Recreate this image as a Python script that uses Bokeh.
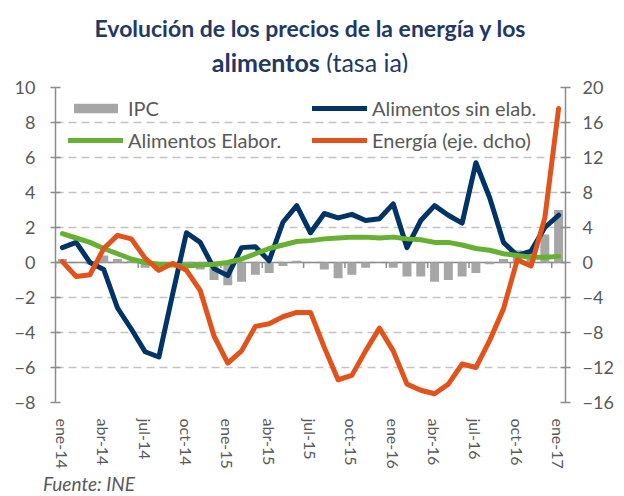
import math
from bokeh.plotting import figure
from bokeh.models import (Range1d, LinearAxis, FixedTicker, Span, Legend,
                          LegendItem, Div)
from bokeh.layouts import column
from bokeh.embed import file_html
from bokeh.resources import INLINE

# ---------------- data ----------------
meses = ["ene-14", "feb-14", "mar-14", "abr-14", "may-14", "jun-14", "jul-14",
         "ago-14", "sep-14", "oct-14", "nov-14", "dic-14",
         "ene-15", "feb-15", "mar-15", "abr-15", "may-15", "jun-15", "jul-15",
         "ago-15", "sep-15", "oct-15", "nov-15", "dic-15",
         "ene-16", "feb-16", "mar-16", "abr-16", "may-16", "jun-16", "jul-16",
         "ago-16", "sep-16", "oct-16", "nov-16", "dic-16",
         "ene-17"]

ipc = [0.2, 0.0, -0.1, 0.4, 0.2, 0.1, -0.3, -0.5, -0.2, -0.1, -0.4, -1.0,
       -1.3, -1.1, -0.7, -0.6, -0.2, 0.1, 0.0, -0.4, -0.9, -0.7, -0.3, 0.0,
       -0.3, -0.8, -0.8, -1.1, -1.0, -0.8, -0.6, -0.1, 0.2, 0.7, 0.7, 1.6,
       3.0]

alim_sin_elab = [0.85, 1.15, 0.0, -0.4, -2.6, -3.8, -5.1, -5.4, -1.8, 1.7,
                 1.15, -0.35, -0.75, 0.85, 0.9, 0.1, 2.3, 3.25, 1.7, 2.8,
                 2.55, 2.75, 2.4, 2.5, 3.35, 0.85, 2.4, 3.25, 2.7, 2.25,
                 5.7, 3.7, 1.15, 0.4, 0.65, 2.0, 2.7]

alim_elabor = [1.65, 1.4, 1.15, 0.8, 0.5, 0.2, 0.0, -0.1, -0.15, -0.2, -0.15,
               -0.1, 0.0, 0.2, 0.5, 0.8, 1.0, 1.2, 1.25, 1.35, 1.4, 1.45,
               1.45, 1.4, 1.45, 1.35, 1.3, 1.15, 1.15, 1.0, 0.8, 0.7, 0.5,
               0.4, 0.3, 0.3, 0.35]

energia = [0.1, -1.6, -1.4, 1.6, 3.1, 2.7, 0.5, -0.9, -0.1, -0.9, -3.2, -8.4,
           -11.5, -10.1, -7.3, -7.0, -6.2, -5.7, -5.7, -9.7, -13.4, -12.9,
           -10.1, -7.5, -10.1, -13.9, -14.6, -15.0, -13.9, -11.6, -12.0,
           -8.9, -5.3, 0.3, -0.4, 5.1, 17.6]

left_ticks = [-8, -6, -4, -2, 0, 2, 4, 6, 8, 10]
right_ticks = [-16, -12, -8, -4, 0, 4, 8, 12, 16, 20]
label_step = 3

titulo_1 = "Evolución de los precios de la energía y los"
titulo_2_bold = "alimentos"
titulo_2_normal = "(tasa ia)"
fuente = "Fuente: INE"

# ---------------- styling ----------------
FONT = "Lato"
TXT = "#595959"
AXIS = "#8c8c8c"
NAVY = "#003366"
GREEN = "#66b032"
ORANGE = "#e2531b"
GREY = "#a6a6a6"
TITLE = "#1f3864"
W = 616

x = list(range(len(meses)))

p = figure(width=W, height=402,
           x_range=Range1d(-0.5, len(meses) - 0.5),
           y_range=Range1d(left_ticks[0], left_ticks[-1]),
           output_backend="svg", toolbar_location=None,
           min_border_left=55, min_border_right=44,
           min_border_top=15, min_border_bottom=72, margin=0)
p.outline_line_color = None
p.background_fill_color = "white"
p.border_fill_color = "white"

p.extra_y_ranges = {"right": Range1d(right_ticks[0], right_ticks[-1])}

# grid
p.xgrid.visible = False
p.ygrid.ticker = FixedTicker(ticks=left_ticks)
p.ygrid.grid_line_color = "#c3c3c3"
p.ygrid.grid_line_dash = "8 5"
p.ygrid.grid_line_width = 1.5

# left axis (cross ticks)
ya = p.yaxis[0]
ya.ticker = FixedTicker(ticks=left_ticks)
ya.axis_line_color = AXIS
ya.axis_line_width = 1.5
ya.major_tick_line_color = AXIS
ya.major_tick_line_width = 1.5
ya.major_tick_out = 5
ya.major_tick_in = 5
ya.minor_tick_line_color = None
ya.major_label_standoff = 15
ya.major_label_text_font = FONT
ya.major_label_text_font_size = "18px"
ya.major_label_text_color = TXT

# right axis (cross ticks)
ra = LinearAxis(y_range_name="right", ticker=FixedTicker(ticks=right_ticks))
ra.axis_line_color = AXIS
ra.axis_line_width = 1.5
ra.major_tick_line_color = AXIS
ra.major_tick_line_width = 1.5
ra.major_tick_out = 5
ra.major_tick_in = 5
ra.minor_tick_line_color = None
ra.major_label_standoff = 12
ra.major_label_text_font = FONT
ra.major_label_text_font_size = "18px"
ra.major_label_text_color = TXT
p.add_layout(ra, "right")

# bottom axis (labels every 3 months)
xa = p.xaxis[0]
label_idx = list(range(0, len(meses), label_step))
xa.ticker = FixedTicker(ticks=label_idx)
xa.major_label_overrides = {i: meses[i] for i in label_idx}
xa.major_label_orientation = -math.pi / 2
xa.axis_line_color = None
xa.major_tick_line_color = None
xa.minor_tick_line_color = None
xa.major_label_standoff = 10
xa.major_label_text_font = FONT
xa.major_label_text_font_size = "16px"
xa.major_label_text_color = TXT

# zero line with tick marks between groups of months
p.add_layout(Span(location=0, dimension="width", line_color=AXIS,
                  line_width=1.5, level="underlay"))
tick_x = [i - 0.5 for i in range(0, len(meses), label_step)]
p.segment(x0=tick_x, y0=[0] * len(tick_x), x1=tick_x,
          y1=[-0.32] * len(tick_x), line_color=AXIS, line_width=1.5)

# series
r_ipc = p.vbar(x=x, top=ipc, bottom=0, width=0.65, fill_color=GREY,
               line_color=None)
r_sin = p.line(x, alim_sin_elab, line_color=NAVY, line_width=5,
               line_join="round", line_cap="round")
r_ela = p.line(x, alim_elabor, line_color=GREEN, line_width=5,
               line_join="round", line_cap="round")
r_ene = p.line(x, energia, line_color=ORANGE, line_width=5,
               line_join="round", line_cap="round", y_range_name="right")

legend = Legend(items=[
    LegendItem(label="IPC", renderers=[r_ipc]),
    LegendItem(label="Alimentos sin elab.", renderers=[r_sin]),
    LegendItem(label="Alimentos Elabor.", renderers=[r_ela]),
    LegendItem(label="Energía (eje. dcho)", renderers=[r_ene]),
], location=(13, 250), orientation="horizontal", ncols=2)
legend.background_fill_alpha = 0
legend.border_line_color = None
legend.glyph_width = 55
legend.glyph_height = 12
legend.label_height = 24
legend.label_width = 176
legend.label_standoff = 5
legend.spacing = 8
legend.padding = 0
legend.margin = 0
legend.label_text_font = FONT
legend.label_text_font_size = "20px"
legend.label_text_color = TXT
p.add_layout(legend)

# titles and source (HTML, mixed bold/normal on line 2)
title_div = Div(
    text=(f'<div style="font-family:{FONT};color:{TITLE};'
          f'text-align:center;padding-top:11px;width:{W + 4}px">'
          f'<div style="font-size:23px;line-height:34px"><b>{titulo_1}</b></div>'
          f'<div style="font-size:25px;line-height:34px"><b>{titulo_2_bold}</b> '
          f'{titulo_2_normal}</div></div>'),
    width=W, height=72, margin=0)
src_div = Div(
    text=(f'<div style="font-family:{FONT};font-size:19px;font-style:italic;'
          f'color:{TXT};padding-left:43px;line-height:20px">{fuente}</div>'),
    width=W, height=20, margin=0)

layout = column(title_div, p, src_div, spacing=0, margin=0)

open("out.html", "w").write(file_html(layout, INLINE))
